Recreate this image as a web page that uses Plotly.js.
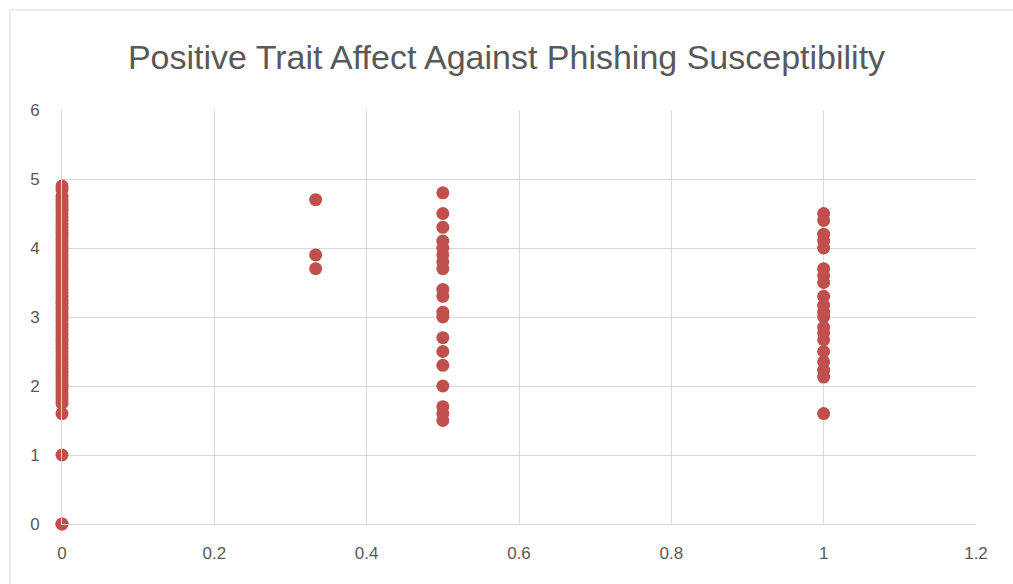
<!DOCTYPE html>
<html>
<head>
<meta charset="utf-8">
<script src="https://cdn.plot.ly/plotly-3.0.1.min.js"></script>
<style>html,body{margin:0;padding:0;background:#fff;}#chart{width:1013px;height:584px;}</style>
</head>
<body>
<div id="chart"></div>
<script>
// Susceptibility group (x) and positive trait affect (y)
const yGroup0 = [4.9,4.85,4.75,4.7,4.65,4.6,4.55,4.5,4.45,4.4,4.35,4.3,4.25,4.2,4.15,4.1,4.05,4.0,3.95,3.9,3.85,3.8,3.75,3.7,3.65,3.6,3.55,3.5,3.45,3.4,3.35,3.3,3.25,3.2,3.15,3.1,3.05,3.0,2.95,2.9,2.85,2.8,2.75,2.7,2.65,2.6,2.55,2.5,2.45,2.4,2.35,2.3,2.25,2.2,2.15,2.1,2.05,2.0,1.95,1.9,1.85,1.8,1.75,1.6,1.0,0,0];
const xGroup0 = yGroup0.map(() => 0);
const xGroup1 = [0.333,0.333,0.333];
const yGroup1 = [4.7,3.9,3.7];
const xGroup2 = [0.5,0.5,0.5,0.5,0.5,0.5,0.5,0.5,0.5,0.5,0.5,0.5,0.5,0.5,0.5,0.5,0.5,0.5,0.5];
const yGroup2 = [4.8,4.5,4.3,4.1,4.0,3.9,3.8,3.7,3.4,3.3,3.07,3.0,2.7,2.5,2.3,2.0,1.7,1.6,1.5];
const xGroup3 = [1,1,1,1,1,1,1,1,1,1,1,1,1,1,1,1,1,1,1,1];
const yGroup3 = [4.5,4.4,4.2,4.1,4.0,3.7,3.6,3.5,3.3,3.17,3.07,3.0,2.85,2.77,2.67,2.5,2.35,2.23,2.13,1.6];
const chartTitle = "Positive Trait Affect Against Phishing Susceptibility";
const xTicks = [0,0.2,0.4,0.6,0.8,1,1.2];
const yTicks = [0,1,2,3,4,5,6];

const xs = xGroup0.concat(xGroup1, xGroup2, xGroup3);
const ys = yGroup0.concat(yGroup1, yGroup2, yGroup3);

const trace = {
  x: xs, y: ys, type: 'scatter', mode: 'markers', cliponaxis: false,
  marker: {color: '#C0504D', size: 13, line: {width: 0}},
  hoverinfo: 'x+y'
};

const L = 62, R = 37, T = 110, B = 60, W = 1013, H = 584;
const pw = W - L - R, ph = H - T - B;
const fontFam = 'Liberation Sans Narrow, Arial Narrow, sans-serif';

const layout = {
  width: W, height: H,
  margin: {l: L, r: R, t: T, b: B, pad: 0},
  paper_bgcolor: '#fff', plot_bgcolor: '#fff',
  title: {text: chartTitle, x: 0.5, xanchor: 'center', y: 1 - 57/H, yanchor: 'middle',
          font: {family: fontFam, size: 34, color: '#595959'}},
  showlegend: false,
  xaxis: {range: [0, 1.2], tickvals: xTicks, ticktext: xTicks.map(String), showgrid: true, gridcolor: '#D9D9D9', gridwidth: 1,
          zeroline: false, showline: true, linecolor: '#D9D9D9', linewidth: 1, ticks: '',
          tickfont: {family: fontFam, size: 17, color: '#595959'}, ticklabelstandoff: 14, fixedrange: true},
  yaxis: {range: [0, 6], tickvals: yTicks, ticktext: yTicks.map(String), showgrid: true, gridcolor: '#D9D9D9', gridwidth: 1,
          zeroline: false, showline: true, linecolor: '#D9D9D9', ticks: '',
          tickfont: {family: fontFam, size: 17, color: '#595959'}, ticklabelstandoff: 18, fixedrange: true},
  shapes: [
    {type: 'line', xref: 'paper', yref: 'paper', x0: (10 - L)/pw, x1: (W + 20 - L)/pw, y0: (H - B - 10)/ph, y1: (H - B - 10)/ph,
     line: {color: '#D9D9D9', width: 1}},
    {type: 'line', xref: 'paper', yref: 'paper', x0: (10 - L)/pw, x1: (10 - L)/pw, y0: (H - B - 10)/ph, y1: -(B + 20)/ph,
     line: {color: '#D9D9D9', width: 1}}
  ]
};

Plotly.newPlot('chart', [trace], layout, {displayModeBar: false, staticPlot: true});
</script>
</body>
</html>
